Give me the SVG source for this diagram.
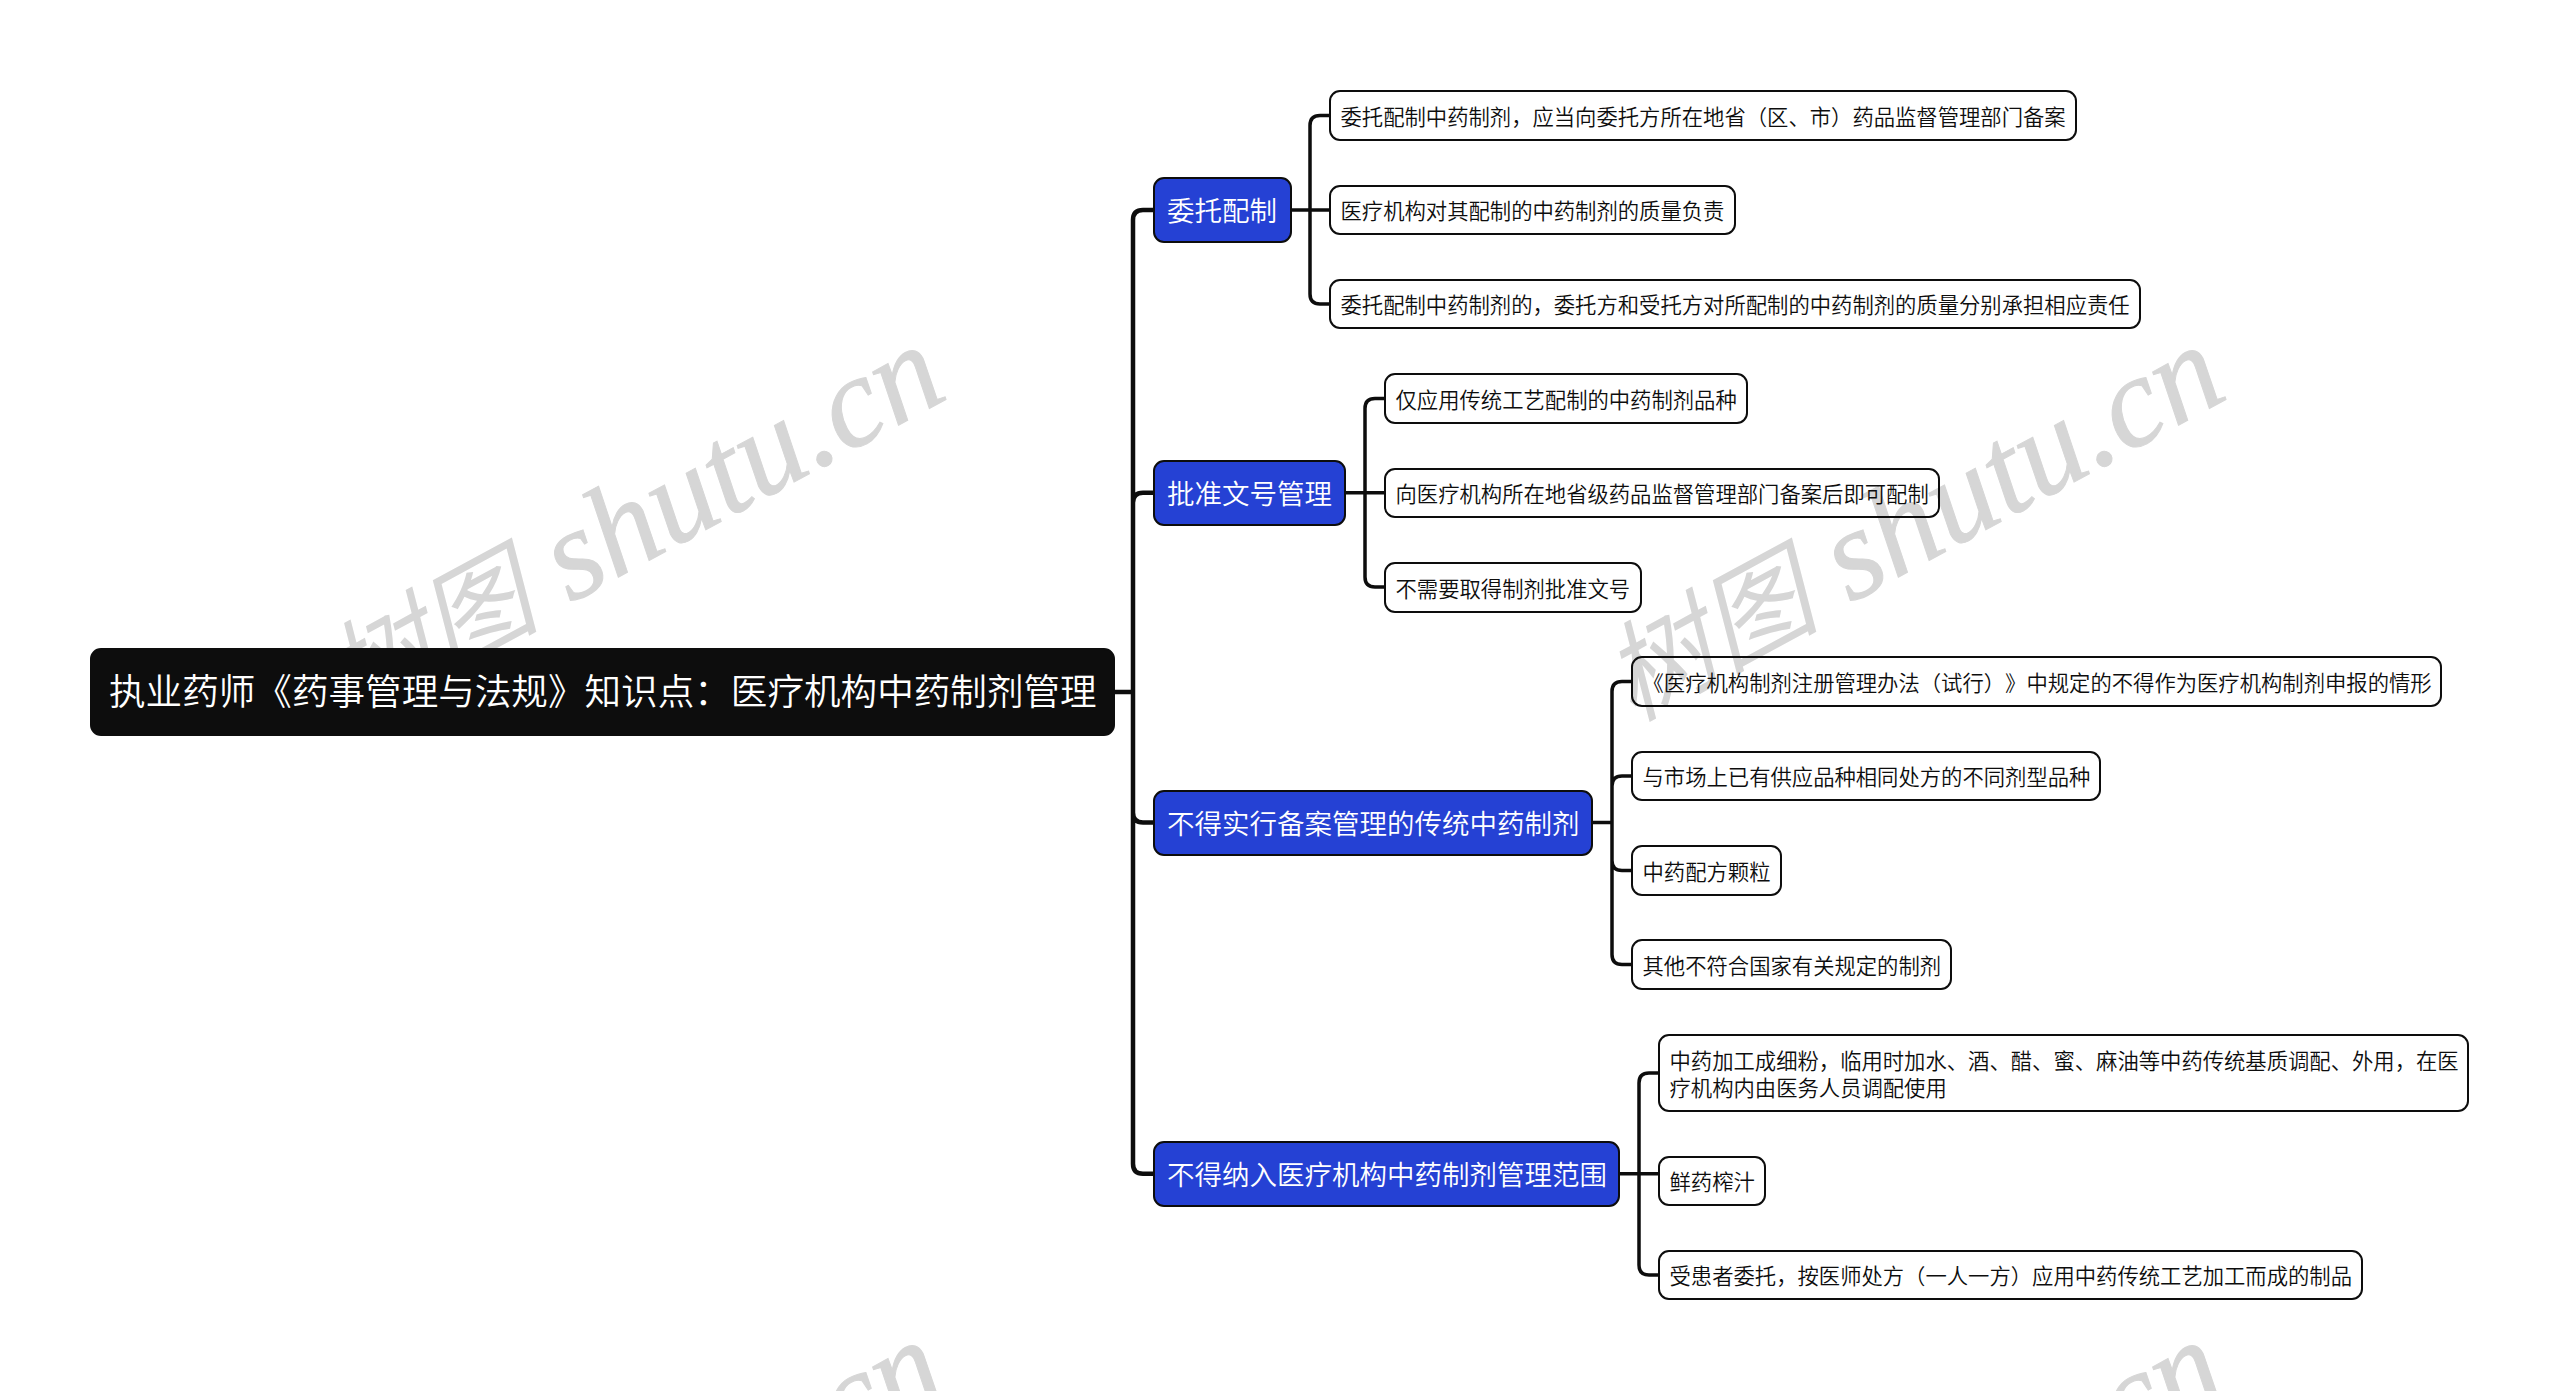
<svg xmlns="http://www.w3.org/2000/svg" width="2560" height="1391" viewBox="0 0 2560 1391">
<defs><style>
text{font-family:"Noto Sans CJK SC","Liberation Sans",sans-serif;text-spacing-trim:space-all}
.wm{font-family:"Liberation Serif","Noto Sans CJK SC",serif;font-style:italic;font-size:129px;fill:#d6d6d6;stroke:#d6d6d6;stroke-width:1}
.wm .z{font-family:"Noto Sans CJK SC",sans-serif;font-size:108px;font-weight:400;stroke:none}
.c{fill:none;stroke:#0d0d0d;stroke-width:4.500}
.d{fill:none;stroke:#0d0d0d;stroke-width:3.500}
.root rect{fill:#0d0d0d;stroke:#0d0d0d;stroke-width:2}
.root text{fill:#fff;font-size:36.6px;font-weight:350}
.br rect{fill:#2541d4;stroke:#0d0d0d;stroke-width:2}
.br text{fill:#fff;font-size:27.5px;font-weight:350}
.lf rect{fill:none;stroke:#0d0d0d;stroke-width:2}
.lf text{fill:#0d0d0d;font-size:21.33px;font-weight:350}
</style></defs>
<rect width="2560" height="1391" fill="#fff"/>
<g id="watermarks">
<text class="wm" transform="translate(352 722) rotate(-28.500)"><tspan class="z">树图</tspan> shutu.cn</text>
<text class="wm" transform="translate(1632 722) rotate(-28.500)"><tspan class="z">树图</tspan> shutu.cn</text>
<text class="wm" transform="translate(352 1717) rotate(-28.500)"><tspan class="z">树图</tspan> shutu.cn</text>
<text class="wm" transform="translate(1632 1717) rotate(-28.500)"><tspan class="z">树图</tspan> shutu.cn</text>
</g>
<g id="connectors">
<path class="c" d="M1114 692H1133M1153 210H1143Q1133 210 1133 220V1163.700Q1133 1173.700 1143 1173.700H1153M1153 492.700H1143Q1133 492.700 1133 502.700M1133 812.500Q1133 822.500 1143 822.500H1153"/>
<path class="d" d="M1291 210H1330M1330 115.500H1320Q1310 115.500 1310 125.500V294Q1310 304 1320 304H1330"/>
<path class="d" d="M1345 492.700H1385M1385 398.500H1375Q1365 398.500 1365 408.500V577Q1365 587 1375 587H1385"/>
<path class="d" d="M1592 822.500H1612M1632 681.500H1622Q1612 681.500 1612 691.500V954.500Q1612 964.500 1622 964.500H1632M1632 776H1622Q1612 776 1612 786M1612 860.500Q1612 870.500 1622 870.500H1632"/>
<path class="d" d="M1619 1173.700H1659M1659 1073H1649Q1639 1073 1639 1083V1265Q1639 1275 1649 1275H1659"/>
</g>
<g id="root" class="root"><rect x="91" y="649" width="1023" height="86" rx="10"/><text x="109" y="705">执业药师《药事管理与法规》知识点：医疗机构中药制剂管理</text></g>
<g id="b1" class="br"><rect x="1154" y="178" width="137" height="64" rx="10"/><text x="1167" y="221">委托配制</text></g>
<g id="b2" class="br"><rect x="1154" y="461" width="191" height="64" rx="10"/><text x="1167" y="504">批准文号管理</text></g>
<g id="b3" class="br"><rect x="1154" y="791" width="438" height="64" rx="10"/><text x="1167" y="834">不得实行备案管理的传统中药制剂</text></g>
<g id="b4" class="br"><rect x="1154" y="1142" width="465" height="64" rx="10"/><text x="1167" y="1185">不得纳入医疗机构中药制剂管理范围</text></g>
<g id="l11" class="lf"><rect x="1330" y="91" width="746" height="49" rx="10"/><text x="1340.500" y="125">委托配制中药制剂，应当向委托方所在地省（区、市）药品监督管理部门备案</text></g>
<g id="l12" class="lf"><rect x="1330" y="186" width="405" height="48" rx="10"/><text x="1340.500" y="219">医疗机构对其配制的中药制剂的质量负责</text></g>
<g id="l13" class="lf"><rect x="1330" y="280" width="810" height="48" rx="10"/><text x="1340.500" y="313">委托配制中药制剂的，委托方和受托方对所配制的中药制剂的质量分别承担相应责任</text></g>
<g id="l21" class="lf"><rect x="1385" y="374" width="362" height="49" rx="10"/><text x="1395.500" y="408">仅应用传统工艺配制的中药制剂品种</text></g>
<g id="l22" class="lf"><rect x="1385" y="469" width="554" height="48" rx="10"/><text x="1395.500" y="502">向医疗机构所在地省级药品监督管理部门备案后即可配制</text></g>
<g id="l23" class="lf"><rect x="1385" y="563" width="256" height="49" rx="10"/><text x="1395.500" y="597">不需要取得制剂批准文号</text></g>
<g id="l31" class="lf"><rect x="1632" y="657" width="809" height="49" rx="10"/><text x="1642.500" y="691">《医疗机构制剂注册管理办法（试行）》中规定的不得作为医疗机构制剂申报的情形</text></g>
<g id="l32" class="lf"><rect x="1632" y="752" width="468" height="48" rx="10"/><text x="1642.500" y="785">与市场上已有供应品种相同处方的不同剂型品种</text></g>
<g id="l33" class="lf"><rect x="1632" y="846" width="149" height="49" rx="10"/><text x="1642.500" y="880">中药配方颗粒</text></g>
<g id="l34" class="lf"><rect x="1632" y="940" width="319" height="49" rx="10"/><text x="1642.500" y="974">其他不符合国家有关规定的制剂</text></g>
<g id="l41" class="lf"><rect x="1659" y="1035" width="809" height="76" rx="10"/><text x="1669.500" y="1069">中药加工成细粉，临用时加水、酒、醋、蜜、麻油等中药传统基质调配、外用，在医</text><text x="1669.500" y="1096">疗机构内由医务人员调配使用</text></g>
<g id="l42" class="lf"><rect x="1659" y="1157" width="106" height="48" rx="10"/><text x="1669.500" y="1190">鲜药榨汁</text></g>
<g id="l43" class="lf"><rect x="1659" y="1251" width="703" height="48" rx="10"/><text x="1669.500" y="1284">受患者委托，按医师处方（一人一方）应用中药传统工艺加工而成的制品</text></g>
</svg>
